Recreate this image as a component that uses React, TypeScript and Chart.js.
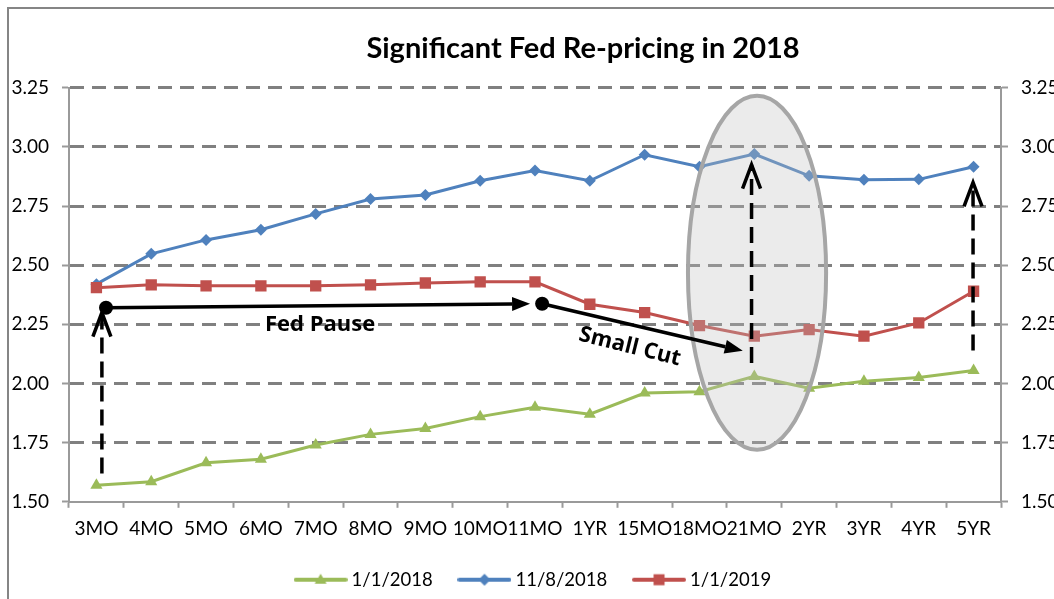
import React, { useEffect, useRef } from 'react';
import { Chart, registerables } from 'chart.js';

Chart.register(...registerables);

const categories = ['3MO', '4MO', '5MO', '6MO', '7MO', '8MO', '9MO', '10MO', '11MO', '1YR', '15MO', '18MO', '21MO', '2YR', '3YR', '4YR', '5YR'];
const seriesJan2018 = [1.57, 1.585, 1.665, 1.68, 1.74, 1.785, 1.81, 1.86, 1.9, 1.87, 1.96, 1.965, 2.03, 1.98, 2.01, 2.025, 2.055];
const seriesNov2018 = [2.42, 2.548, 2.607, 2.65, 2.717, 2.78, 2.797, 2.857, 2.9, 2.857, 2.967, 2.916, 2.97, 2.878, 2.861, 2.863, 2.916];
const seriesJan2019 = [2.405, 2.417, 2.413, 2.413, 2.413, 2.417, 2.425, 2.43, 2.43, 2.335, 2.3, 2.245, 2.2, 2.228, 2.2, 2.256, 2.39];
const seriesNames = ['1/1/2018', '11/8/2018', '1/1/2019'];
const seriesColors = ['#9bbb59', '#4f81bd', '#c0504d'];
const yTickValues = [1.5, 1.75, 2.0, 2.25, 2.5, 2.75, 3.0, 3.25];
const titleText = 'Significant Fed Re-pricing in 2018';

// annotation anchors in data units: [category index, value]
const dashedArrows = [
  [[0.1, 1.62], [0.1, 2.3]],
  [[11.95, 2.087], [11.95, 2.925]],
  [[15.99, 2.14], [15.99, 2.85]],
];
const solidArrows = [
  [[0.175, 2.32], [7.91, 2.337]],
  [[8.13, 2.337], [11.79, 2.138]],
];
const ellipseSpec = { cx: 12.05, cy: 2.468, rx: 1.26, ry: 0.748 };
const textNotes = [
  { text: 'Fed Pause', at: [4.08, 2.25], angle: 0 },
  { text: 'Small Cut', at: [9.73, 2.155], angle: 14 },
];

function makeLegendImage(color: string, style: string) {
  const c = document.createElement('canvas');
  c.width = 54;
  c.height = 16;
  const g = c.getContext('2d')!;
  g.strokeStyle = color;
  g.lineWidth = 4;
  g.lineCap = 'round';
  g.beginPath();
  g.moveTo(2, 8);
  g.lineTo(52, 8);
  g.stroke();
  g.fillStyle = color;
  g.beginPath();
  if (style === 'triangle') {
    g.moveTo(27, 2);
    g.lineTo(33, 12);
    g.lineTo(21, 12);
  } else if (style === 'rectRot') {
    g.moveTo(27, 2);
    g.lineTo(33, 8);
    g.lineTo(27, 14);
    g.lineTo(21, 8);
  } else {
    g.rect(21.5, 2.5, 11, 11);
  }
  g.closePath();
  g.fill();
  return c;
}

const annotationPlugin = {
  id: 'fedAnnotations',
  afterDatasetsDraw(chart: any) {
    const { ctx } = chart;
    const xs = chart.scales.x;
    const ys = chart.scales.y;
    const px = (i: number) => xs.getPixelForValue(i);
    const py = (v: number) => ys.getPixelForValue(v);
    ctx.save();

    // ellipse
    const cx = px(ellipseSpec.cx);
    const cy = py(ellipseSpec.cy);
    const rx = px(ellipseSpec.cx + ellipseSpec.rx) - cx;
    const ry = py(ellipseSpec.cy - ellipseSpec.ry) - cy;
    ctx.beginPath();
    ctx.ellipse(cx, cy, rx, ry, 0, 0, Math.PI * 2);
    ctx.fillStyle = 'rgba(191,191,191,0.31)';
    ctx.fill();
    ctx.lineWidth = 4;
    ctx.strokeStyle = '#a6a6a6';
    ctx.stroke();

    // dashed arrows
    ctx.strokeStyle = '#000';
    ctx.lineWidth = 3.5;
    dashedArrows.forEach(([a, b]) => {
      const x0 = px(a[0]);
      const y0 = py(a[1]);
      const x1 = px(b[0]);
      const y1 = py(b[1]);
      ctx.setLineDash([16, 8]);
      ctx.beginPath();
      ctx.moveTo(x0, y0);
      ctx.lineTo(x1, y1);
      ctx.stroke();
      ctx.setLineDash([]);
      ctx.beginPath();
      ctx.moveTo(x1 - 9, y1 + 24);
      ctx.lineTo(x1, y1);
      ctx.lineTo(x1 + 9, y1 + 24);
      ctx.stroke();
    });

    // solid arrows
    ctx.fillStyle = '#000';
    solidArrows.forEach(([a, b]) => {
      const x0 = px(a[0]);
      const y0 = py(a[1]);
      const x1 = px(b[0]);
      const y1 = py(b[1]);
      const ang = Math.atan2(y1 - y0, x1 - x0);
      const hl = 18;
      const hw = 7;
      ctx.beginPath();
      ctx.moveTo(x0, y0);
      ctx.lineTo(x1 - Math.cos(ang) * hl, y1 - Math.sin(ang) * hl);
      ctx.stroke();
      ctx.beginPath();
      ctx.moveTo(x1, y1);
      ctx.lineTo(x1 - Math.cos(ang) * hl + Math.sin(ang) * hw, y1 - Math.sin(ang) * hl - Math.cos(ang) * hw);
      ctx.lineTo(x1 - Math.cos(ang) * hl - Math.sin(ang) * hw, y1 - Math.sin(ang) * hl + Math.cos(ang) * hw);
      ctx.closePath();
      ctx.fill();
      ctx.beginPath();
      ctx.arc(x0, y0, 7, 0, Math.PI * 2);
      ctx.fill();
    });

    // texts
    ctx.font = 'bold 22px "Open Sans"';
    ctx.textAlign = 'center';
    ctx.textBaseline = 'middle';
    textNotes.forEach((n) => {
      ctx.save();
      ctx.translate(px(n.at[0]), py(n.at[1]));
      ctx.rotate((n.angle * Math.PI) / 180);
      ctx.fillText(n.text, 0, 0);
      ctx.restore();
    });
    ctx.restore();
  },
};

export default function App() {
  const ref = useRef<HTMLCanvasElement | null>(null);

  useEffect(() => {
    if (!ref.current) return;
    const styles = ['triangle', 'rectRot', 'rect'];
    const radii = [7, 6, 8];
    const values = [seriesJan2018, seriesNov2018, seriesJan2019];
    const orders = [2, 1, 0];
    const legendImages = styles.map((s, i) => makeLegendImage(seriesColors[i], s));
    const axisColor = '#9a9a9a';
    const gridColor = '#808080';
    const tickFont = { family: 'Lato', size: 19 };

    const chart = new Chart(ref.current, {
      type: 'line',
      data: {
        labels: categories,
        datasets: values.map((v, i) => ({
          label: seriesNames[i],
          data: v,
          borderColor: seriesColors[i],
          backgroundColor: seriesColors[i],
          borderWidth: 3,
          pointStyle: styles[i] as any,
          pointRadius: radii[i],
          pointBorderWidth: 0,
          pointBackgroundColor: seriesColors[i],
          tension: 0,
          order: orders[i],
        })),
      },
      options: {
        responsive: false,
        animation: false,
        layout: { padding: 0 },
        plugins: {
          title: {
            display: true,
            text: titleText,
            color: '#000',
            font: { family: 'Lato', size: 29, weight: 'bold', lineHeight: 1.2 },
            padding: { top: 22, bottom: 22 },
          },
          legend: {
            position: 'bottom',
            fullSize: false,
            labels: {
              usePointStyle: true,
              pointStyleWidth: 43.5,
              padding: 30,
              color: '#000',
              font: { family: 'Lato', size: 18.5 },
              generateLabels: () =>
                seriesNames.map((name, i) => ({
                  text: name,
                  fillStyle: seriesColors[i],
                  strokeStyle: seriesColors[i],
                  lineWidth: 0,
                  pointStyle: legendImages[i] as any,
                  hidden: false,
                  datasetIndex: i,
                  fontColor: '#000',
                })),
            },
          },
          tooltip: { enabled: false },
        },
        scales: {
          x: {
            type: 'category',
            offset: true,
            afterFit: (s: any) => {
              s.height = 38.7;
            },
            grid: {
              offset: true,
              drawOnChartArea: false,
              drawTicks: true,
              tickLength: 6,
              tickColor: axisColor,
              tickWidth: 2,
            },
            border: { display: true, color: axisColor, width: 2 },
            ticks: {
              color: '#000',
              font: tickFont,
              padding: 10,
              autoSkip: false,
              maxRotation: 0,
              minRotation: 0,
            },
          },
          y: {
            position: 'left',
            min: 1.5,
            max: 3.25,
            afterFit: (s: any) => {
              s.width = 60;
            },
            afterBuildTicks: (s: any) => {
              s.ticks = yTickValues.map((v) => ({ value: v }));
            },
            grid: {
              color: (c: any) => (c.tick && c.tick.value === 1.5 ? 'rgba(0,0,0,0)' : gridColor),
              lineWidth: 3,
              tickBorderDash: [],
              tickLength: 7,
              tickColor: axisColor,
              tickWidth: 2,
            } as any,
            border: { display: true, color: axisColor, width: 2, dash: [14, 8] } as any,
            ticks: {
              color: '#000',
              font: tickFont,
              padding: 13,
              callback: (v: any) => Number(v).toFixed(2),
            },
          },
          y1: {
            position: 'right',
            min: 1.5,
            max: 3.25,
            afterFit: (s: any) => {
              s.width = 156;
            },
            afterBuildTicks: (s: any) => {
              s.ticks = yTickValues.map((v) => ({ value: v }));
            },
            grid: {
              drawOnChartArea: false,
              tickLength: 7,
              tickColor: axisColor,
              tickWidth: 2,
            },
            border: { display: true, color: axisColor, width: 2 },
            ticks: {
              color: '#000',
              font: tickFont,
              padding: 13,
              callback: (v: any) => Number(v).toFixed(2),
            },
          },
        },
      },
      plugins: [annotationPlugin],
    });
    return () => chart.destroy();
  }, []);

  return (
    <div style={{ position: 'fixed', left: 0, top: 0, width: 1054, height: 599, overflow: 'hidden', background: '#fff' }}>
      <div
        style={{
          position: 'absolute',
          left: 7,
          top: 7,
          width: 1200,
          height: 700,
          borderLeft: '2px solid #858585',
          borderTop: '2px solid #858585',
        }}
      />
      <div style={{ position: 'absolute', left: 9, top: 9, width: 1148, height: 590 }}>
        <canvas ref={ref} width={1148} height={590} style={{ display: 'block' }} />
      </div>
    </div>
  );
}
